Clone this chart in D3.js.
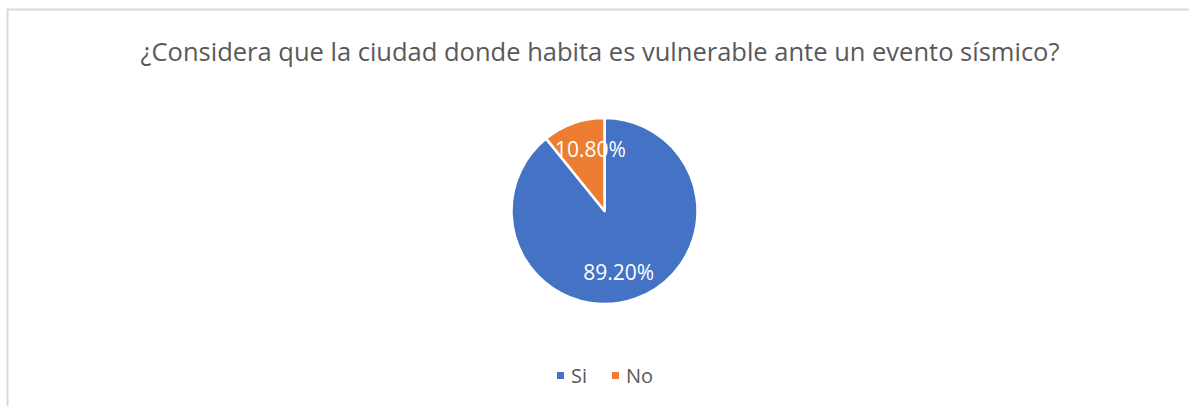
<!DOCTYPE html>
<html>
<head>
<meta charset="utf-8">
<script src="https://cdn.jsdelivr.net/npm/d3@7"></script>
<style>
  body { margin: 0; background: #fff; }
  text { font-family: "Open Sans", sans-serif; }
</style>
</head>
<body>
<script>
// chart data
const title = "¿Considera que la ciudad donde habita es vulnerable ante un evento sísmico?";
const categories = ["Si", "No"];
const values = [89.2, 10.8];
const colors = ["#4472c4", "#ed7d31"];

const W = 1189, H = 406;
const svg = d3.select("body").append("svg")
    .attr("width", W)
    .attr("height", H);

// chart frame
svg.append("rect")
    .attr("x", 7.5).attr("y", 9.5)
    .attr("width", W + 10).attr("height", H + 10)
    .attr("fill", "#fff")
    .attr("stroke", "#d9d9d9")
    .attr("stroke-width", 2);

svg.append("text")
    .attr("x", 600).attr("y", 61)
    .attr("text-anchor", "middle")
    .attr("fill", "#595959")
    .style("font-size", "25.5px")
    .text(title);

const cx = 604.5, cy = 211, r = 93;
const data = categories.map((c, i) => ({ cat: c, val: values[i], color: colors[i] }));

const pie = d3.pie().sort(null).value(d => d.val);
const arc = d3.arc().innerRadius(0).outerRadius(r);
const arcs = pie(data);

const g = svg.append("g").attr("transform", `translate(${cx},${cy})`);
g.selectAll("path").data(arcs).join("path")
    .attr("d", arc)
    .attr("fill", d => d.data.color)
    .attr("stroke", "#fff")
    .attr("stroke-width", 2.5)
    .attr("stroke-linejoin", "round");

// data labels (best-fit style, pulled toward the vertical axis)
const labelArc = d3.arc().innerRadius(r * 0.7).outerRadius(r * 0.7);
g.selectAll("text.lbl").data(arcs).join("text")
    .attr("class", "lbl")
    .attr("transform", d => {
        const [x, y] = labelArc.centroid(d);
        return `translate(${x * 0.65},${y})`;
    })
    .attr("text-anchor", "middle")
    .attr("dy", "0.35em")
    .attr("fill", "#fff")
    .style("font-size", "21px")
    .text(d => d.data.val.toFixed(2) + "%");

// legend
const legend = svg.append("g");
const legendX = [557, 612];
categories.forEach((c, i) => {
    legend.append("rect")
        .attr("x", legendX[i]).attr("y", 372)
        .attr("width", 7).attr("height", 7)
        .attr("fill", colors[i]);
    legend.append("text")
        .attr("x", legendX[i] + 14).attr("y", 383)
        .attr("fill", "#595959")
        .style("font-size", "20px")
        .text(c);
});
</script>
</body>
</html>
